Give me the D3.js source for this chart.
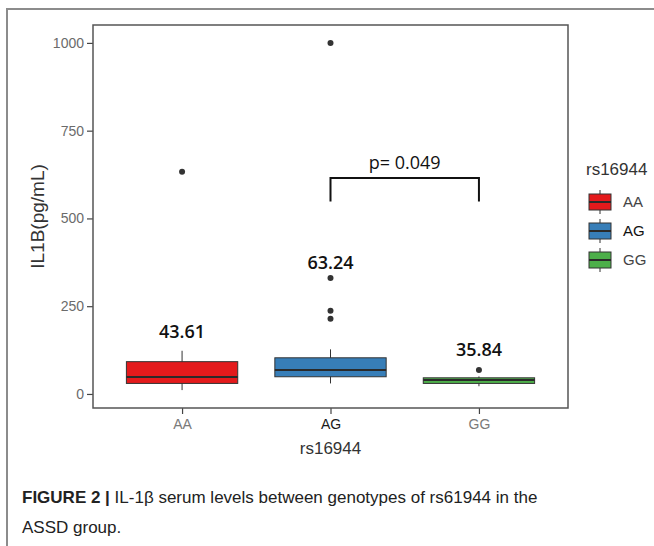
<!DOCTYPE html>
<html>
<head>
<meta charset="utf-8">
<script src="https://cdn.jsdelivr.net/npm/d3@7"></script>
<style>
  body { margin: 0; background: #fff; }
  svg { display: block; }
</style>
</head>
<body>
<div id="chart"></div>
<script>
// genotype groups and box statistics (pg/mL)
var genotypes = ["AA", "AG", "GG"];
var whiskerLow = [11, 30, 22];
var q1 = [30, 49, 30];
var medians = [48, 68, 40];
var q3 = [92, 103, 46];
var whiskerHigh = [123, 127, 50];
var outliers = [[633], [1000, 330, 237, 214], [68]];
var meanLabels = ["43.61", "63.24", "35.84"];
var meanLabelY = [177, 374, 127];
var colors = ["#e41a1c", "#377eb8", "#4daf4a"];
var yTicks = [0, 250, 500, 750, 1000];

// comparison bracket AG vs GG
var pText = "p= 0.049";
var bracketTop = 615, bracketBottom = 548, pTextY = 659;

var W = 654, H = 546;
var panel = { left: 93, right: 568, top: 25, bottom: 408 };

var svg = d3.select("#chart").append("svg")
    .attr("width", W)
    .attr("height", H);

// outer frame of the figure
svg.append("path")
    .attr("d", "M7,546 L7,9 L654,9")
    .attr("fill", "none")
    .attr("stroke", "#8c8c8c")
    .attr("stroke-width", 2);

var x = d3.scalePoint()
    .domain(genotypes)
    .range([panel.left, panel.right])
    .padding(0.6);
var boxW = x.step() * 0.75;

var y = d3.scaleLinear()
    .domain([-40, 1051])
    .range([panel.bottom, panel.top]);

var color = d3.scaleOrdinal().domain(genotypes).range(colors);

// y axis
var yAxis = svg.append("g")
    .attr("transform", "translate(" + panel.left + ",0)")
    .call(d3.axisLeft(y).tickValues(yTicks).tickFormat(d3.format("d")).tickSize(6).tickPadding(3));
yAxis.select(".domain").remove();
yAxis.selectAll("line").attr("stroke", "#444").attr("stroke-width", 1.2);
yAxis.selectAll("text")
    .attr("fill", "#6b6b6b")
    .attr("font-family", "Liberation Sans, Arial, sans-serif")
    .attr("font-size", 14);

// x axis
var xAxis = svg.append("g")
    .attr("transform", "translate(0," + panel.bottom + ")")
    .call(d3.axisBottom(x).tickSize(6).tickPadding(5));
xAxis.select(".domain").remove();
xAxis.selectAll("line").attr("stroke", "#444").attr("stroke-width", 1.2);
xAxis.selectAll("text")
    .attr("fill", function (d) { return d == "AG" ? "#1a1a1a" : "#7a7a7a"; })
    .attr("font-family", "Liberation Sans, Arial, sans-serif")
    .attr("font-size", 14);

// panel border
svg.append("rect")
    .attr("x", panel.left)
    .attr("y", panel.top)
    .attr("width", panel.right - panel.left)
    .attr("height", panel.bottom - panel.top)
    .attr("fill", "none")
    .attr("stroke", "#555")
    .attr("stroke-width", 1.5);

// boxes
var groups = svg.selectAll(".box")
    .data(genotypes)
    .enter()
    .append("g")
    .attr("class", "box");

groups.append("line")
    .attr("x1", function (d) { return x(d); })
    .attr("x2", function (d) { return x(d); })
    .attr("y1", function (d, i) { return y(whiskerLow[i]); })
    .attr("y2", function (d, i) { return y(whiskerHigh[i]); })
    .attr("stroke", "#333")
    .attr("stroke-width", 1);

groups.append("rect")
    .attr("x", function (d) { return x(d) - boxW / 2; })
    .attr("y", function (d, i) { return y(q3[i]); })
    .attr("width", boxW)
    .attr("height", function (d, i) { return y(q1[i]) - y(q3[i]); })
    .attr("fill", function (d) { return color(d); })
    .attr("stroke", "#333")
    .attr("stroke-width", 1);

groups.append("line")
    .attr("x1", function (d) { return x(d) - boxW / 2; })
    .attr("x2", function (d) { return x(d) + boxW / 2; })
    .attr("y1", function (d, i) { return y(medians[i]); })
    .attr("y2", function (d, i) { return y(medians[i]); })
    .attr("stroke", "#2a2a2a")
    .attr("stroke-width", 2);

groups.selectAll(".outlier")
    .data(function (d, i) { return outliers[i].map(function (v) { return { g: d, v: v }; }); })
    .enter()
    .append("circle")
    .attr("class", "outlier")
    .attr("cx", function (o) { return x(o.g); })
    .attr("cy", function (o) { return y(o.v); })
    .attr("r", 3)
    .attr("fill", "#333");

// mean labels
groups.append("text")
    .attr("x", function (d) { return x(d); })
    .attr("y", function (d, i) { return y(meanLabelY[i]); })
    .attr("dy", "0.35em")
    .attr("text-anchor", "middle")
    .attr("font-family", "Open Sans, sans-serif")
    .attr("font-weight", 600)
    .attr("font-size", 18)
    .attr("fill", "#111")
    .text(function (d, i) { return meanLabels[i]; });

// significance bracket
svg.append("path")
    .attr("d", "M" + x("AG") + "," + y(bracketBottom) +
        " L" + x("AG") + "," + y(bracketTop) +
        " L" + x("GG") + "," + y(bracketTop) +
        " L" + x("GG") + "," + y(bracketBottom))
    .attr("fill", "none")
    .attr("stroke", "#111")
    .attr("stroke-width", 2);

svg.append("text")
    .attr("x", (x("AG") + x("GG")) / 2)
    .attr("y", y(pTextY))
    .attr("dy", "0.35em")
    .attr("text-anchor", "middle")
    .attr("font-family", "Open Sans, sans-serif")
    .attr("font-weight", 500)
    .attr("font-size", 18)
    .attr("fill", "#111")
    .text(pText);

// axis titles
svg.append("text")
    .attr("transform", "translate(44," + ((panel.top + panel.bottom) / 2) + ") rotate(-90)")
    .attr("text-anchor", "middle")
    .attr("font-family", "Liberation Sans, Arial, sans-serif")
    .attr("font-size", 19)
    .attr("fill", "#333")
    .text("IL1B(pg/mL)");

svg.append("text")
    .attr("x", (panel.left + panel.right) / 2)
    .attr("y", 454)
    .attr("text-anchor", "middle")
    .attr("font-family", "Liberation Sans, Arial, sans-serif")
    .attr("font-size", 17)
    .attr("fill", "#333")
    .text("rs16944");

// legend
var legend = svg.append("g").attr("transform", "translate(586,0)");
legend.append("text")
    .attr("x", 0)
    .attr("y", 175)
    .attr("font-family", "Liberation Sans, Arial, sans-serif")
    .attr("font-size", 17)
    .attr("fill", "#333")
    .text("rs16944");

var keys = legend.selectAll(".key")
    .data(genotypes)
    .enter()
    .append("g")
    .attr("class", "key")
    .attr("transform", function (d, i) { return "translate(3," + (202 + i * 29) + ")"; });
keys.append("line")
    .attr("x1", 11).attr("x2", 11)
    .attr("y1", -12).attr("y2", 12)
    .attr("stroke", "#333");
keys.append("rect")
    .attr("x", 0).attr("y", -8)
    .attr("width", 22).attr("height", 16)
    .attr("fill", function (d) { return color(d); })
    .attr("stroke", "#333");
keys.append("line")
    .attr("x1", 0).attr("x2", 22)
    .attr("y1", 0).attr("y2", 0)
    .attr("stroke", "#2a2a2a")
    .attr("stroke-width", 2);
keys.append("text")
    .attr("x", 34)
    .attr("y", 0)
    .attr("dy", "0.35em")
    .attr("font-family", "Liberation Sans, Arial, sans-serif")
    .attr("font-size", 15)
    .attr("fill", function (d) { return d == "AG" ? "#111" : "#444"; })
    .text(function (d) { return d; });

// caption
var cap = svg.append("text")
    .attr("x", 22)
    .attr("y", 503)
    .attr("font-family", "Liberation Sans, Arial, sans-serif")
    .attr("font-size", 17)
    .attr("fill", "#222");
cap.append("tspan").attr("font-weight", "bold").text("FIGURE 2 | ");
cap.append("tspan").text("IL-1β serum levels between genotypes of rs61944 in the");
svg.append("text")
    .attr("x", 22)
    .attr("y", 533)
    .attr("font-family", "Liberation Sans, Arial, sans-serif")
    .attr("font-size", 17)
    .attr("fill", "#222")
    .text("ASSD group.");
</script>
</body>
</html>
